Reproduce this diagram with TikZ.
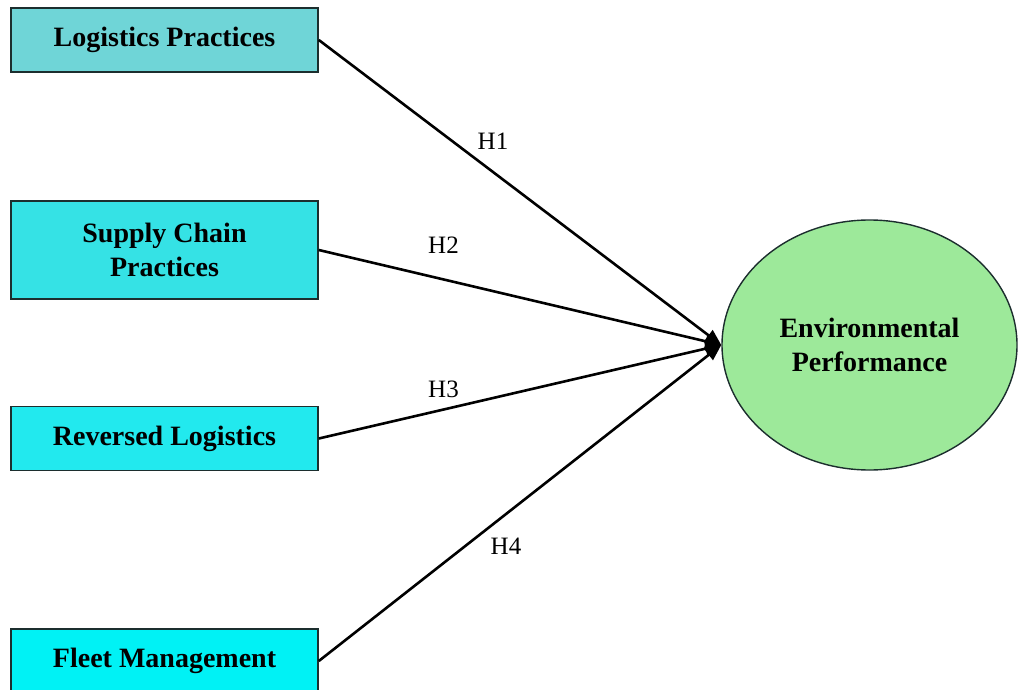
\documentclass[tikz,border=0pt]{standalone}
\usepackage{fontspec}
\setmainfont{Liberation Serif}
\usetikzlibrary{shapes.geometric,arrows.meta}
\definecolor{boxA}{HTML}{6FD5D7}
\definecolor{boxB}{HTML}{35E2E5}
\definecolor{boxC}{HTML}{22E9EE}
\definecolor{boxD}{HTML}{00F2F5}
\definecolor{ellfill}{HTML}{9DE99A}
\definecolor{edgeline}{HTML}{1C2E2E}
\tikzset{
  factor/.style={draw=edgeline, line width=1.6pt, minimum width=307pt, minimum height=64pt,
    inner sep=0pt, align=center, font=\fontsize{28}{34}\selectfont\bfseries},
  outcome/.style={ellipse, draw=edgeline, line width=1.4pt, fill=ellfill, minimum width=295pt,
    minimum height=250pt, inner sep=0pt, align=center, font=\fontsize{28}{34}\selectfont\bfseries},
  path/.style={line width=2.6pt, -{Triangle[length=16pt,width=13pt]}},
  hyp/.style={font=\fontsize{25}{30}\selectfont, inner sep=0pt}
}
\begin{document}
\begin{tikzpicture}[x=1pt, y=-1pt]
\useasboundingbox (0,0) rectangle (1019,690);
\clip (0,0) rectangle (1019,690);
\node[factor, fill=boxA] (logprac) at (164.5,40) {Logistics Practices};
\node[factor, fill=boxB, minimum height=98pt] (scprac) at (164.5,250) {Supply Chain\\Practices};
\node[factor, fill=boxC] (revlog) at (164.5,438.5) {Reversed Logistics};
\node[factor, fill=boxD] (fleet) at (164.5,661) {Fleet Management};
\node[outcome] (envperf) at (869.5,345) {Environmental\\Performance};
\draw[path] (logprac.east) -- (envperf.west);
\draw[path] (scprac.east) -- (envperf.west);
\draw[path] (revlog.east) -- (envperf.west);
\draw[path] (fleet.east) -- (envperf.west);
\node[hyp] (h1) at (493,141.5) {H1};
\node[hyp] (h2) at (443.5,245.5) {H2};
\node[hyp] (h3) at (443.5,389) {H3};
\node[hyp] (h4) at (506,546) {H4};
\end{tikzpicture}
\end{document}
